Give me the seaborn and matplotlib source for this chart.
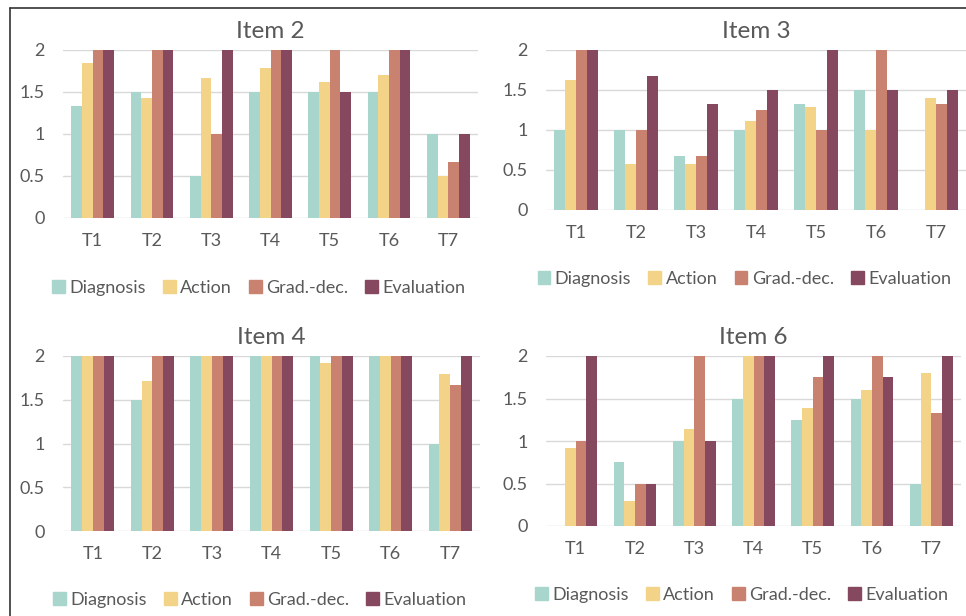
import matplotlib
matplotlib.use('Agg')
import matplotlib.pyplot as plt
from matplotlib.lines import Line2D
import pandas as pd
import seaborn as sns

tasks = ['T1', 'T2', 'T3', 'T4', 'T5', 'T6', 'T7']
skills = ['Diagnosis', 'Action', 'Grad.-dec.', 'Evaluation']
colors = ['#A8D5CC', '#F2D387', '#C98170', '#85485E']

# values per skill, T1..T7
item2 = {
    'Diagnosis': [1.33, 1.5, 0.5, 1.5, 1.5, 1.5, 1.0],
    'Action': [1.85, 1.43, 1.67, 1.78, 1.62, 1.7, 0.5],
    'Grad.-dec.': [2.0, 2.0, 1.0, 2.0, 2.0, 2.0, 0.67],
    'Evaluation': [2.0, 2.0, 2.0, 2.0, 1.5, 2.0, 1.0],
}
item3 = {
    'Diagnosis': [1.0, 1.0, 0.67, 1.0, 1.33, 1.5, 0.0],
    'Action': [1.62, 0.57, 0.57, 1.11, 1.29, 1.0, 1.4],
    'Grad.-dec.': [2.0, 1.0, 0.67, 1.25, 1.0, 2.0, 1.33],
    'Evaluation': [2.0, 1.67, 1.33, 1.5, 2.0, 1.5, 1.5],
}
item4 = {
    'Diagnosis': [2.0, 1.5, 2.0, 2.0, 2.0, 2.0, 1.0],
    'Action': [2.0, 1.71, 2.0, 2.0, 1.92, 2.0, 1.8],
    'Grad.-dec.': [2.0, 2.0, 2.0, 2.0, 2.0, 2.0, 1.67],
    'Evaluation': [2.0, 2.0, 2.0, 2.0, 2.0, 2.0, 2.0],
}
item6 = {
    'Diagnosis': [0.0, 0.75, 1.0, 1.5, 1.25, 1.5, 0.5],
    'Action': [0.92, 0.29, 1.14, 2.0, 1.39, 1.6, 1.8],
    'Grad.-dec.': [1.0, 0.5, 2.0, 2.0, 1.75, 2.0, 1.33],
    'Evaluation': [2.0, 0.5, 1.0, 2.0, 2.0, 1.75, 2.0],
}

W, H = 966, 616
sns.set_theme(style='white')
plt.rcParams['font.family'] = ['Lato', 'DejaVu Sans']
text_col = '#595959'


def to_long(item):
    rows = []
    for s in skills:
        for t, v in zip(tasks, item[s]):
            rows.append({'task': t, 'skill': s, 'score': v})
    return pd.DataFrame(rows)


fig = plt.figure(figsize=(W / 100, H / 100), dpi=100)

# (title, data, left, right, top, bottom, legend y) in pixels
panels = [
    ('Item 2', item2, 63, 478, 50, 218, 288),
    ('Item 3', item3, 546, 966, 50, 210, 279),
    ('Item 4', item4, 63, 480, 356, 531, 600),
    ('Item 6', item6, 546, 961, 356, 526, 595),
]

for title, item, l, r, t, b, ly in panels:
    ax = fig.add_axes([l / W, 1 - b / H, (r - l) / W, (b - t) / H])
    df = to_long(item)
    sns.barplot(data=df, x='task', y='score', hue='skill', hue_order=skills,
                palette=colors, width=0.72, linewidth=0, saturation=1,
                ax=ax, legend=False)
    ax.set_xlim(-0.5, 6.5)
    ax.set_ylim(0, 2)
    ax.set_yticks([0, 0.5, 1, 1.5, 2])
    ax.set_yticklabels(['0', '0.5', '1', '1.5', '2'])
    ax.yaxis.grid(True, color='#D9D9D9', linewidth=1)
    ax.set_axisbelow(True)
    for sp in ax.spines.values():
        sp.set_visible(False)
    ax.set_xlabel('')
    ax.set_ylabel('')
    ax.tick_params(axis='y', length=0, pad=13, labelsize=13, labelcolor=text_col)
    ax.tick_params(axis='x', length=0, pad=11, labelsize=13, labelcolor=text_col)
    ax.set_title(title, fontsize=17.5, color=text_col, pad=9)

    handles = [plt.Rectangle((0, 0), 1, 1, color=c) for c in colors]
    ax.legend(handles, skills, loc='center',
              bbox_to_anchor=((l + r) / 2 / W - 0.012, 1 - ly / H),
              bbox_transform=fig.transFigure, ncol=4, frameon=False,
              handlelength=0.7, handleheight=0.7, handletextpad=0.25,
              columnspacing=0.95, fontsize=13, labelcolor=text_col)

# outer frame of the picture (top and left edges)
fig.add_artist(Line2D([10 / W, 1], [1 - 8 / H, 1 - 8 / H], color='#333333', linewidth=1.2))
fig.add_artist(Line2D([10 / W, 10 / W], [0, 1 - 8 / H], color='#333333', linewidth=1.2))

fig.savefig('out.png', dpi=100, facecolor='white')
